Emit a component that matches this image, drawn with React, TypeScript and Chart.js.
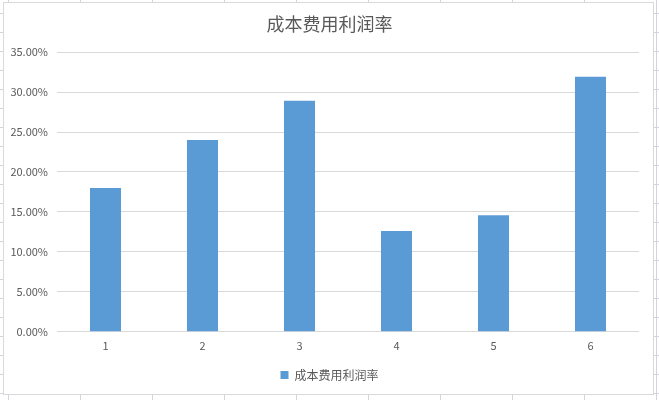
import React, { useEffect, useRef } from "react";
import { Chart, registerables } from "chart.js";

Chart.register(...registerables);

const categories = ["1", "2", "3", "4", "5", "6"];
const seriesName = "成本费用利润率";
const profitRates = [0.18, 0.24, 0.289, 0.126, 0.146, 0.319];
const yTicks = [0, 0.05, 0.1, 0.15, 0.2, 0.25, 0.3, 0.35];

const FONT = "'Noto Sans CJK SC', 'Noto Sans', sans-serif";
const TEXT = "#595959";
const LINE = "#d9d9d9";

// spreadsheet cells peeking out behind the chart box
const sheetBackground = {
    id: "sheetBackground",
    beforeDraw(chart: Chart) {
        const { ctx, width, height } = chart;
        ctx.save();
        ctx.fillStyle = "#ffffff";
        ctx.fillRect(0, 0, width, height);
        ctx.strokeStyle = "#d4d4e0";
        ctx.lineWidth = 1;
        ctx.beginPath();
        for (let x = 8.5; x < width; x += 72) {
            ctx.moveTo(x, 0);
            ctx.lineTo(x, height);
        }
        for (let y = 13.5; y < height; y += 19) {
            ctx.moveTo(0, y);
            ctx.lineTo(width, y);
        }
        ctx.stroke();
        ctx.fillStyle = "#ffffff";
        ctx.fillRect(3.5, 2.5, 650, 392);
        ctx.strokeStyle = LINE;
        ctx.strokeRect(3.5, 2.5, 650, 392);
        ctx.restore();
    },
};

const App: React.FC = () => {
    const chartRef = useRef<HTMLCanvasElement | null>(null);

    useEffect(() => {
        if (!chartRef.current) return;
        const chart = new Chart(chartRef.current, {
            type: "bar",
            data: {
                labels: categories,
                datasets: [
                    {
                        label: seriesName,
                        data: profitRates,
                        backgroundColor: "#5b9bd5",
                        borderWidth: 0,
                        barPercentage: 0.32,
                        categoryPercentage: 1,
                        yAxisID: "y",
                    },
                ],
            },
            options: {
                animation: false,
                responsive: true,
                maintainAspectRatio: false,
                layout: { padding: { left: 0, right: 0, top: 0, bottom: 9 } },
                plugins: {
                    title: {
                        display: true,
                        text: seriesName,
                        color: TEXT,
                        font: { family: FONT, size: 18, weight: "normal" },
                        padding: { top: 13, bottom: 17.5 },
                    },
                    legend: {
                        position: "bottom",
                        labels: {
                            color: TEXT,
                            font: { family: FONT, size: 12 },
                            boxWidth: 8,
                            boxHeight: 8,
                            padding: 10,
                        },
                    },
                    tooltip: { enabled: false },
                },
                scales: {
                    x: {
                        grid: { display: false, drawTicks: false },
                        border: { display: false },
                        ticks: {
                            color: TEXT,
                            font: { family: FONT, size: 11 },
                            padding: 7,
                        },
                    },
                    y: {
                        position: "left",
                        min: 0,
                        max: 0.35,
                        afterBuildTicks: (scale) => {
                            scale.ticks = yTicks.map((value) => ({ value }));
                        },
                        afterFit: (scale) => {
                            scale.width = 57;
                        },
                        grid: { color: LINE, drawTicks: false },
                        border: { display: false },
                        ticks: {
                            color: TEXT,
                            font: { family: FONT, size: 11 },
                            padding: 9,
                            callback: (v) => (Number(v) * 100).toFixed(2) + "%",
                        },
                    },
                    // empty right axis: keeps the plot off the right edge
                    yRight: {
                        type: "linear",
                        position: "right",
                        min: 0,
                        max: 1,
                        grid: { display: false, drawTicks: false },
                        border: { display: false },
                        ticks: { display: false },
                        afterFit: (scale) => {
                            scale.width = 20;
                        },
                    },
                },
            },
            plugins: [sheetBackground],
        });

        return () => {
            chart.destroy();
        };
    }, []);

    return (
        <div style={{ position: "absolute", left: 0, top: 0, width: 659, height: 400 }}>
            <canvas ref={chartRef} />
        </div>
    );
};

export default App;
